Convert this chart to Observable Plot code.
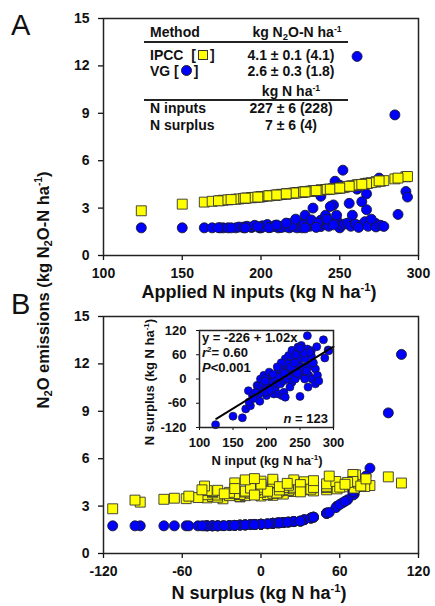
<!DOCTYPE html>
<html>
<head>
<meta charset="utf-8">
<script src="https://cdn.jsdelivr.net/npm/d3@7"></script>
<script src="https://cdn.jsdelivr.net/npm/@observablehq/plot@0.6"></script>
<style>
  html, body { margin: 0; padding: 0; background: #fff; }
  #root { position: relative; width: 435px; height: 606px; overflow: hidden; background: #fff;
          font-family: 'Liberation Sans', Arial, sans-serif; color: #111; }
  .abs { position: absolute; white-space: nowrap; line-height: 1; }
  sub { font-size: 0.68em; vertical-align: -0.28em; line-height: 0; }
  sup { font-size: 0.62em; vertical-align: 0.62em; line-height: 0; }
  .sq { display: inline-block; width: 8px; height: 8px; background: #ffff00; border: 1px solid #333; vertical-align: 0px; margin: 0 2px; }
  .ci { display: inline-block; width: 9px; height: 9px; background: #0000ff; border: 1px solid #222; border-radius: 50%; vertical-align: 0px; margin: 0 2px; }
</style>
</head>
<body>
<div id="root"></div>
<script>
// ---------------- data (one entry per site) ----------------
const nInput = [124,150,164,169,176,174,173,179,189,200,184,194,199,186,189,194,191,196,201,201,
                204,206,209,209,211,213,213,216,216,218,218,221,223,223,226,226,228,228,231,231,
                233,233,236,238,238,238,241,241,243,243,252,246,248,248,250,251,247,253,261,258,
                261,263,266,267,268,273,273,276,285,292,293,287,205,210,220,222,227,232,236,242,
                246,255,257,260,262,270,278,216,198,181,190,235,228,244,267,264,256,250,275];
const nSurplus = [-113,-92,-96,-74,-66,-57,-29,-41,-37,-41,-33,-24,-33,-16,-16,-12,0,9,5,-16,
                  17,-20,9,-8,-37,0,-24,13,-12,25,-37,-12,21,-41,-4,-33,33,50,0,17,
                  25,58,9,38,-8,71,50,17,25,0,83,62,38,50,-43,9,79,21,107,50,
                  74,9,33,57,0,25,-12,9,97,72,70,52,-28,12,5,40,14,38,30,40,
                  14,30,0,20,-20,40,-5,30,-5,-48,-55,-20,-45,60,70,66,64,76,80];
const ipccN2O = [2.83,3.25,3.38,3.43,3.50,3.47,3.46,3.52,3.61,3.72,3.56,3.66,3.70,3.58,3.61,3.66,3.64,3.68,3.73,3.73,
                 3.76,3.79,3.81,3.81,3.84,3.87,3.87,3.89,3.89,3.92,3.92,3.95,3.98,3.98,4.00,4.00,4.03,4.03,4.06,4.06,
                 4.09,4.09,4.11,4.14,4.14,4.14,4.17,4.17,4.19,4.19,4.30,4.22,4.25,4.25,4.27,4.28,4.24,4.32,4.46,4.41,
                 4.46,4.49,4.54,4.56,4.58,4.66,4.66,4.70,4.85,4.98,5.00,4.90,3.78,3.83,3.94,3.96,4.02,4.07,4.12,4.18,
                 4.23,4.36,4.39,4.44,4.47,4.61,4.74,3.90,3.70,3.54,3.63,4.11,4.03,4.20,4.56,4.50,4.38,4.27,4.72];
const vgN2O = [1.75,1.75,1.75,1.75,1.75,1.75,1.76,1.75,1.75,1.75,1.75,1.77,1.75,1.80,1.80,1.81,1.85,1.91,1.88,1.80,
               1.96,1.78,1.91,1.83,1.75,1.85,1.77,1.94,1.81,2.02,1.75,1.81,1.99,1.75,1.84,1.75,2.14,2.55,1.85,1.96,
               2.02,3.00,1.91,2.24,1.83,3.75,2.55,1.96,2.02,1.85,5.40,3.20,2.24,2.55,1.75,1.91,4.70,1.99,12.6,2.55,
               4.20,1.91,2.14,2.90,1.85,2.02,1.81,1.91,8.90,4.05,3.70,2.60,1.76,1.93,1.88,2.30,1.94,2.25,2.05,2.30,
               1.94,2.05,1.85,1.98,1.78,2.30,1.84,2.05,1.83,1.75,1.75,1.78,1.75,3.10,3.90,3.40,3.30,4.45,4.90];

// tick values
const xTicksA = [100, 150, 200, 250, 300];
const xTicksB = [-120, -60, 0, 60, 120];
const yTicks = [0, 3, 6, 9, 12, 15];
const insetXTicks = [100, 150, 200, 250, 300];
const insetYTicks = [-120, -60, 0, 60, 120];

// regression reported in the inset
const fitIntercept = -226, fitSlope = 1.02, fitRange = [125, 300];

// ---------------- build ----------------
const rows = nInput.map((d, i) => ({input: d, surplus: nSurplus[i], ipcc: ipccN2O[i], vg: vgN2O[i]}));
const fitLine = fitRange.map(x => ({x, y: fitIntercept + fitSlope * x}));

const FONT = "'Liberation Sans', Arial, sans-serif";
const BLUE = "#0000ff", YELLOW = "#ffff00";
const fmt = d => String(d);

function mainPlot(xKey, xDomain, xTicks, top) {
  return Plot.plot({
    width: 435, height: top ? 300 : 306,
    marginTop: top ? 18 : 16, marginRight: 17, marginBottom: top ? 45 : 53, marginLeft: 103,
    style: {fontFamily: FONT, fontSize: "14px", fontWeight: "bold", color: "#111", background: "transparent", overflow: "visible"},
    x: {domain: xDomain},
    y: {domain: [0, 15]},
    marks: [
      Plot.axisX({ticks: xTicks, tickSize: 5, tickPadding: 8, label: null, tickFormat: fmt, strokeWidth: 1.3}),
      Plot.axisY({ticks: yTicks, tickSize: 5, tickPadding: 9, label: null, tickFormat: fmt, strokeWidth: 1.3}),
      Plot.dot(rows, {x: xKey, y: "vg", r: 5, fill: BLUE, stroke: "#1a1a2a", strokeWidth: 0.9}),
      Plot.dot(rows, {x: xKey, y: "ipcc", symbol: "square", r: 5.6, fill: YELLOW, stroke: "#333", strokeWidth: 0.9}),
      Plot.frame({stroke: "#222", strokeWidth: 1.5})
    ]
  });
}

const root = document.getElementById("root");
function place(el, left, top) {
  const w = document.createElement("div");
  w.style.position = "absolute"; w.style.left = left + "px"; w.style.top = top + "px";
  w.appendChild(el); root.appendChild(w); return w;
}
place(mainPlot("input", [100, 300], xTicksA, true), 0, 0);
place(mainPlot("surplus", [-120, 120], xTicksB, false), 0, 300);

const inset = Plot.plot({
  width: 198, height: 149,
  marginTop: 12, marginRight: 5, marginBottom: 40, marginLeft: 59,
  style: {fontFamily: FONT, fontSize: "13px", fontWeight: "bold", color: "#111", background: "transparent", overflow: "visible"},
  x: {domain: [100, 300]},
  y: {domain: [-120, 120]},
  marks: [
    Plot.frame({fill: "white"}),
    Plot.axisX({ticks: insetXTicks, tickSize: 3, tickPadding: 7, label: null, tickFormat: fmt}),
    Plot.axisY({ticks: insetYTicks, tickSize: 3, tickPadding: 10, label: null, tickFormat: fmt}),
    Plot.dot(rows, {x: "input", y: "surplus", r: 4, fill: BLUE, stroke: "#1a1a2a", strokeWidth: 0.7}),
    Plot.line(fitLine, {x: "x", y: "y", stroke: "#000", strokeWidth: 2}),
    Plot.frame({stroke: "#222", strokeWidth: 1.5})
  ]
});
place(inset, 140, 318);

// ---------------- text ----------------
function txt(html, x, baseline, size, opts = {}) {
  const d = document.createElement("div");
  d.className = "abs";
  d.innerHTML = html;
  d.style.fontSize = size + "px";
  d.style.fontWeight = opts.weight || "bold";
  const top = baseline - 0.8465 * size;
  d.style.top = top + "px";
  if (opts.anchor === "middle") { d.style.left = x + "px"; d.style.transform = "translateX(-50%)"; }
  else if (opts.anchor === "end") { d.style.right = (435 - x) + "px"; }
  else d.style.left = x + "px";
  root.appendChild(d);
  return d;
}
function vtxt(html, cx, cy, size) {
  const d = document.createElement("div");
  d.className = "abs";
  d.innerHTML = html;
  d.style.fontSize = size + "px";
  d.style.fontWeight = "bold";
  d.style.left = cx + "px"; d.style.top = cy + "px";
  d.style.transform = "translate(-50%,-50%) rotate(-90deg)";
  root.appendChild(d);
}
function hline(x1, x2, y) {
  const d = document.createElement("div");
  d.style.cssText = `position:absolute;left:${x1}px;top:${y}px;width:${x2 - x1}px;height:1.6px;background:#222`;
  root.appendChild(d);
}

// panel letters
txt("A", 11, 36, 29, {weight: "normal"});
txt("B", 11, 315, 29, {weight: "normal"});

// axis titles
txt("Applied N inputs (kg N ha<sup>-1</sup>)", 259, 298, 18, {anchor: "middle"});
txt("N surplus (kg N ha<sup>-1</sup>)", 259, 599, 18, {anchor: "middle"});
vtxt("N<sub>2</sub>O emissions (kg N<sub>2</sub>O-N ha<sup>-1</sup>)", 43, 290, 16.5);

// summary table in panel A
txt("Method", 150, 37, 14);
txt("kg N<sub>2</sub>O-N ha<sup>-1</sup>", 297, 37, 14, {anchor: "middle"});
hline(144, 348, 41);
txt("IPCC &nbsp;[<span class='sq'></span>]", 150, 60, 14);
txt("4.1 ± 0.1 (4.1)", 291, 60, 14, {anchor: "middle"});
txt("VG [<span class='ci'></span>]", 150, 76, 14);
txt("2.6 ± 0.3 (1.8)", 291, 76, 14, {anchor: "middle"});
txt("kg N ha<sup>-1</sup>", 291, 96, 14, {anchor: "middle"});
hline(144, 348, 99);
txt("N inputs", 150, 113, 14);
txt("227 ± 6 (228)", 291, 113, 14, {anchor: "middle"});
txt("N surplus", 150, 130, 14);
txt("7 ± 6 (4)", 291, 130, 14, {anchor: "middle"});

// inset annotations
txt("y = -226 + 1.02x", 202, 342, 13);
txt("<i>r</i><sup>2</sup>= 0.60", 202, 357, 13);
txt("<i>P</i>&lt;0.001", 202, 372, 13);
txt("<i>n</i> = 123", 328, 423, 13, {anchor: "end"});
txt("N input (kg N ha<sup>-1</sup>)", 267, 465, 13, {anchor: "middle"});
vtxt("N surplus (kg N ha<sup>-1</sup>)", 149, 382, 13);
</script>
</body>
</html>
